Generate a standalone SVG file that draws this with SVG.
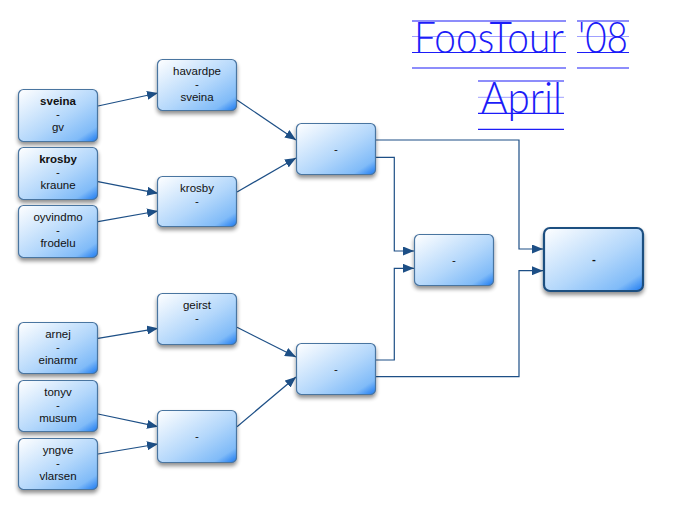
<svg xmlns="http://www.w3.org/2000/svg" width="699" height="510" viewBox="0 0 699 510">
<defs>
<linearGradient id="g" x1="0" y1="0" x2="1" y2="1">
<stop offset="0" stop-color="#ffffff"/>
<stop offset="0.55" stop-color="#b3d7fb"/>
<stop offset="0.85" stop-color="#80bbf8"/>
<stop offset="1" stop-color="#1a78f0"/>
</linearGradient>
<filter id="sh" x="-20%" y="-20%" width="140%" height="150%">
<feGaussianBlur in="SourceAlpha" stdDeviation="2"/>
<feOffset dx="0" dy="3" result="b"/>
<feComponentTransfer><feFuncA type="linear" slope="0.45"/></feComponentTransfer>
<feMerge><feMergeNode/><feMergeNode in="SourceGraphic"/></feMerge>
</filter>
<marker id="ah" viewBox="0 0 11 9" refX="11" refY="4.5" markerWidth="11" markerHeight="9" markerUnits="userSpaceOnUse" orient="auto">
<path d="M0,0 L11,4.5 L0,9 z" fill="#1d4f86"/>
</marker>
</defs>
<style>
.n rect{fill:url(#g);stroke:#4a74a0;stroke-width:1.2;filter:url(#sh)}
.n text{font-family:"Liberation Sans",Arial,sans-serif;font-size:11.5px;fill:#111;text-anchor:middle}
.n .b{font-weight:bold}
.f rect{stroke:#1f4f80;stroke-width:2.2}
.c path{fill:none;stroke:#1d4f86;stroke-width:1.2;marker-end:url(#ah)}
.t{font-family:"Lato","Open Sans",sans-serif;font-weight:300;fill:#1c1cf8}
.gl{stroke:#1c1cf8;stroke-width:1.2}
.gm{stroke:#a0a0ff;stroke-width:1}
</style>

<g id="title">
<line class="gl" x1="412" y1="21" x2="566" y2="21"/>
<line class="gm" x1="412" y1="36.5" x2="566" y2="36.5"/>
<line class="gl" x1="412" y1="52.5" x2="566" y2="52.5"/>
<line class="gl" x1="412" y1="68" x2="566" y2="68"/>
<line class="gl" x1="577" y1="21" x2="629" y2="21"/>
<line class="gm" x1="577" y1="36.5" x2="629" y2="36.5"/>
<line class="gl" x1="577" y1="52.5" x2="629" y2="52.5"/>
<line class="gl" x1="577" y1="68" x2="629" y2="68"/>
<line class="gl" x1="478" y1="81" x2="564" y2="81"/>
<line class="gm" x1="478" y1="97.3" x2="564" y2="97.3"/>
<line class="gl" x1="478" y1="113.3" x2="564" y2="113.3"/>
<line class="gl" x1="478" y1="129.3" x2="564" y2="129.3"/>
<text class="t" x="414" y="52.5" font-size="44" textLength="150" lengthAdjust="spacingAndGlyphs">FoosTour</text>
<text class="t" x="578" y="52.5" font-size="44" textLength="50" lengthAdjust="spacingAndGlyphs">'08</text>
<text class="t" x="481" y="113.3" font-size="44" textLength="81" lengthAdjust="spacingAndGlyphs">April</text>
</g>

<g class="c" id="connectors">
<path d="M98,106 L158,93"/>
<path d="M98,181.7 L158,193.3"/>
<path d="M98,221.7 L158,211"/>
<path d="M237,100 L296,140"/>
<path d="M237,192 L296,158"/>
<path d="M98,338.3 L158,328.3"/>
<path d="M98,414 L158,426.7"/>
<path d="M98,454 L158,444"/>
<path d="M237,327.3 L296,357"/>
<path d="M237,426.7 L296,377"/>
<path d="M376,140 H519 V249 H543"/>
<path d="M376,157.3 H394.3 V251 H414"/>
<path d="M376,360 H394.3 V268.3 H414"/>
<path d="M376,376.7 H519 V270.7 H543"/>
</g>

<g class="n" id="n_sveina_gv"><rect x="18.5" y="89.5" width="79" height="52" rx="5"/>
<text x="58" y="105" class="b">sveina</text><text x="58" y="118">-</text><text x="58" y="131">gv</text></g>
<g class="n" id="n_krosby_kraune"><rect x="18.5" y="147.5" width="79" height="52" rx="5"/>
<text x="58" y="163" class="b">krosby</text><text x="58" y="176">-</text><text x="58" y="189">kraune</text></g>
<g class="n" id="n_oyvindmo_frodelu"><rect x="18.5" y="205.5" width="79" height="52" rx="5"/>
<text x="58" y="221">oyvindmo</text><text x="58" y="234">-</text><text x="58" y="247">frodelu</text></g>
<g class="n" id="n_arnej_einarmr"><rect x="18.5" y="322.5" width="79" height="51" rx="5"/>
<text x="58" y="338">arnej</text><text x="58" y="351">-</text><text x="58" y="364">einarmr</text></g>
<g class="n" id="n_tonyv_musum"><rect x="18.5" y="380.5" width="79" height="51" rx="5"/>
<text x="58" y="396">tonyv</text><text x="58" y="409">-</text><text x="58" y="422">musum</text></g>
<g class="n" id="n_yngve_vlarsen"><rect x="18.5" y="438.5" width="79" height="51" rx="5"/>
<text x="58" y="454">yngve</text><text x="58" y="467">-</text><text x="58" y="480">vlarsen</text></g>

<g class="n" id="n_havardpe_sveina"><rect x="157.5" y="59.5" width="79" height="51" rx="5"/>
<text x="197" y="75">havardpe</text><text x="197" y="88">-</text><text x="197" y="101">sveina</text></g>
<g class="n" id="n_krosby"><rect x="157.5" y="176.5" width="79" height="50" rx="5"/>
<text x="197" y="192">krosby</text><text x="197" y="205">-</text></g>
<g class="n" id="n_geirst"><rect x="157.5" y="293.5" width="79" height="51" rx="5"/>
<text x="197" y="309">geirst</text><text x="197" y="322">-</text></g>
<g class="n" id="n_r1_blank"><rect x="157.5" y="410.5" width="79" height="52" rx="5"/>
<text x="197" y="440">-</text></g>

<g class="n" id="n_r2_top"><rect x="296.5" y="123.5" width="79" height="51" rx="5"/>
<text x="336" y="153">-</text></g>
<g class="n" id="n_r2_bottom"><rect x="296.5" y="343.5" width="79" height="51" rx="5"/>
<text x="336" y="373">-</text></g>

<g class="n" id="n_r3"><rect x="414.5" y="234.5" width="79" height="51" rx="5"/>
<text x="454" y="264">-</text></g>

<g class="n f" id="n_final"><rect x="544" y="228" width="99" height="63" rx="6"/>
<text x="594" y="263" class="b">-</text></g>
</svg>
